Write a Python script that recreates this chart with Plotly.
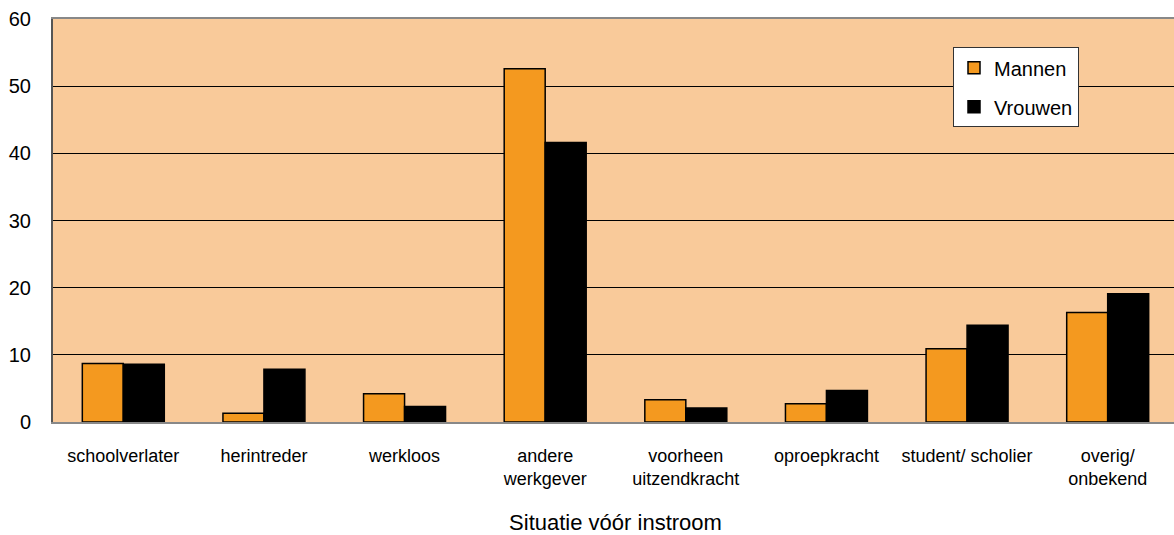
import plotly.graph_objects as go

categories = ["schoolverlater", "herintreder", "werkloos", "andere<br>werkgever",
              "voorheen<br>uitzendkracht", "oproepkracht", "student/ scholier", "overig/<br>onbekend"]
mannen = [8.7, 1.3, 4.2, 52.6, 3.3, 2.7, 10.9, 16.3]
vrouwen = [8.6, 7.85, 2.3, 41.6, 2.1, 4.7, 14.4, 19.1]
y_ticks = [0, 10, 20, 30, 40, 50, 60]
x_title = "Situatie vóór instroom"

FONT = "Liberation Sans, Arial, sans-serif"

fig = go.Figure()
fig.add_trace(go.Bar(name="Mannen", x=categories, y=mannen,
                     marker=dict(color="#F4991F", line=dict(color="black", width=1.5)),
                     legendgroup="m"))
fig.add_trace(go.Bar(name="Vrouwen", x=categories, y=vrouwen,
                     marker=dict(color="black", line=dict(color="black", width=1.5)),
                     legendgroup="v"))

fig.update_layout(
    width=1178, height=535,
    margin=dict(l=53, r=0, t=19, b=113, autoexpand=False),
    paper_bgcolor="white",
    plot_bgcolor="#F9CA9A",
    barmode="group",
    bargap=0.417,
    bargroupgap=0,
    font=dict(family=FONT, color="black"),
    legend=dict(
        x=0.8, y=0.93, xanchor="left", yanchor="top",
        bgcolor="white", bordercolor="#333", borderwidth=1,
        font=dict(size=20, family=FONT),
        traceorder="grouped", tracegroupgap=10,
    ),
    xaxis=dict(
        showline=True, linecolor="#888", linewidth=2, mirror=True,
        tickfont=dict(size=18, family=FONT),
        ticks="", ticklabelstandoff=16,
        title=dict(text=x_title, font=dict(size=22, family=FONT), standoff=27),
    ),
    yaxis=dict(
        range=[0, 60], tickvals=y_ticks,
        showline=True, linecolor="#555", linewidth=2,
        showgrid=True, gridcolor="black", gridwidth=1,
        zeroline=False,
        tickfont=dict(size=20, family=FONT),
        ticks="", ticklabelstandoff=16,
    ),
)

fig.write_html(
    "out.html",
    config={"displayModeBar": False},
    post_script="document.body.style.margin='0';document.body.style.overflow='hidden';",
)
